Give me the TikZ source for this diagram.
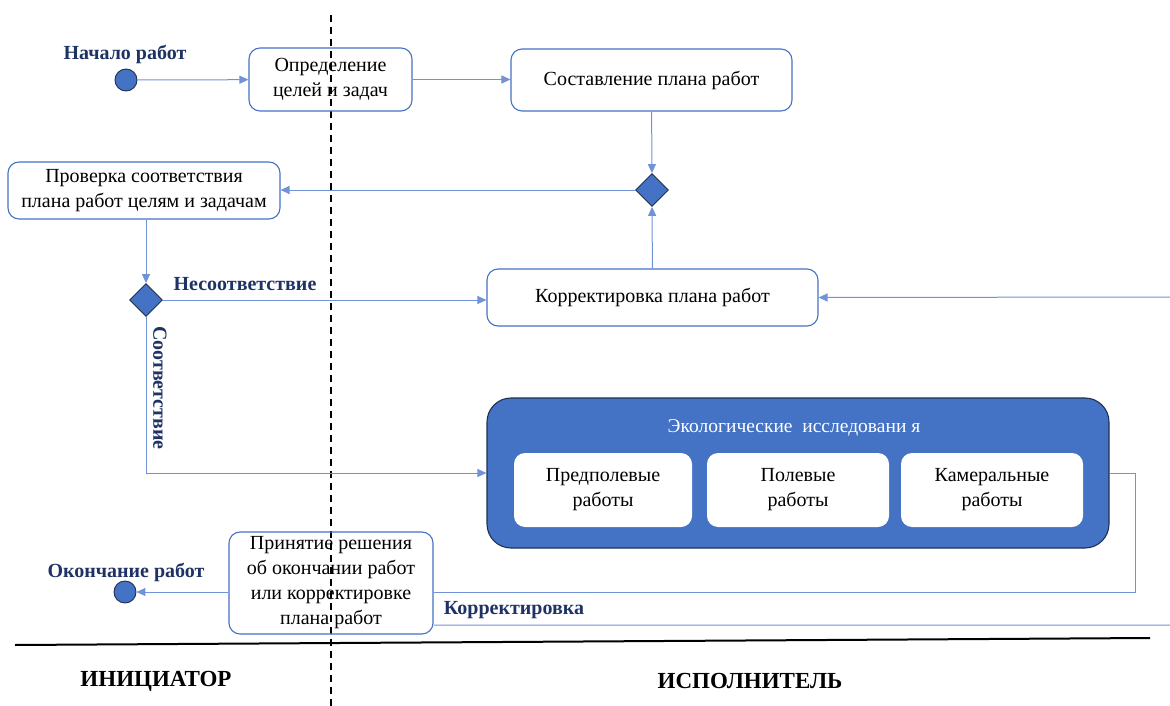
\documentclass[tikz,border=0pt]{standalone}
\usepackage{fontspec}
\setmainfont{Liberation Serif}
\usetikzlibrary{shapes.geometric,calc,positioning,arrows.meta}
\definecolor{lineblue}{HTML}{6F93D6}
\definecolor{boxblue}{HTML}{4472C4}
\definecolor{darkedge}{HTML}{1F3050}
\definecolor{navy}{HTML}{1F3264}

\begin{document}
\begin{tikzpicture}[x=1pt,y=-1pt,every node/.style={align=center,font=\fontsize{20}{25}\selectfont},
  actbox/.style={draw=boxblue,line width=1.1pt,rounded corners=11pt,inner sep=0pt},
  gate/.style={diamond,draw=darkedge,fill=boxblue,line width=0.9pt,minimum size=33pt,inner sep=0pt},
  dot/.style={circle,draw=darkedge,fill=boxblue,line width=0.9pt,minimum size=22pt,inner sep=0pt},
  flow/.style={draw=lineblue,line width=1pt,-{Triangle[length=9pt,width=8pt]}},
  plain/.style={draw=lineblue,line width=1pt},
  guard/.style={font=\fontsize{20}{24}\selectfont\bfseries,text=navy},
  role/.style={font=\fontsize{23}{26}\selectfont\bfseries}]
\useasboundingbox (0,0) rectangle (1170,706);
% lanes
\draw [dashed,line width=1.6pt,dash pattern=on 7pt off 5pt] (331,15) -- (331,706);
\draw [line width=2pt] (15,645) -- (1150,638);
\node [role] (Initiator) at (156,681) {ИНИЦИАТОР};
\node [role] (Executor) at (750,681) {ИСПОЛНИТЕЛЬ};
% activities
\node [dot] (Start) at (126,80) {};
\node [guard] (StartLabel) at (125,54) {Начало работ};
\node [actbox,minimum width=163pt,minimum height=63pt] (Goals) at (330.5,79.5) {Определение\\целей и задач};
\node [actbox,minimum width=281pt,minimum height=62pt] (Plan) at (651.5,80) {Составление плана работ};
\node [gate] (PlanGate) at (652,190) {};
\node [actbox,minimum width=272pt,minimum height=57pt] (Check) at (144,190.5) {Проверка соответствия\\плана работ целям и задачам};
\node [gate] (CheckGate) at (146,300) {};
\node [actbox,minimum width=331pt,minimum height=57pt] (Fix) at (652.5,297.5) {Корректировка плана работ};
\node [draw=darkedge,fill=boxblue,line width=1.1pt,rounded corners=24pt,minimum width=622pt,minimum height=150pt] (Eco) at (798,473) {};
\node [text=white,font=\fontsize{19.5}{22}\selectfont] (EcoTitle) at (794,428) {Экологические\ \ исследовани я};
\node [fill=white,rounded corners=11pt,minimum width=178pt,minimum height=74pt] (Pre) at (603,490) {Предполевые\\работы};
\node [fill=white,rounded corners=11pt,minimum width=182pt,minimum height=74pt] (Field) at (798,490) {Полевые\\работы};
\node [fill=white,rounded corners=11pt,minimum width=182pt,minimum height=74pt] (Office) at (992,490) {Камеральные\\работы};
\node [actbox,minimum width=204pt,minimum height=102pt,font=\fontsize{20}{25}\selectfont] (Decide) at (331,583) {Принятие решения\\об окончании работ\\или корректировке\\плана работ};
\node [dot] (Finish) at (125,592) {};
\node [guard] (FinishLabel) at (126,572) {Окончание работ};
% connectors
\coordinate (EcoOut) at (1135,473);
\coordinate (LoopTop) at (1174,297);
\coordinate (LoopBottom) at (1174,625);
\draw [flow] (Start) -- (Goals);
\draw [flow] (Goals.east) -- (Plan.west |- Goals.east);
\draw [flow] (Plan) -- (PlanGate);
\draw [flow] (Fix) -- (PlanGate);
\draw [flow] (PlanGate) -- (PlanGate -| Check.east);
\draw [flow] (Check.south -| CheckGate) -- (CheckGate);
\draw [flow] (CheckGate) -- (CheckGate -| Fix.west);
\node [guard] (Mismatch) at (245,284) {Несоответствие};
\draw [flow] (CheckGate) -- (CheckGate |- Eco) -- (Eco.west);
\node [guard,rotate=-90] (Match) at (160,388) {Соответствие};
\draw [plain] (Eco.east) -- (EcoOut) -- (EcoOut |- Finish) -- (Decide.east |- Finish);
\draw [flow] (Decide.west |- Finish) -- (Finish);
\draw [flow] (Decide.east |- LoopBottom) -- (LoopBottom) -- (LoopTop) -- (Fix.east);
\node [guard] (FixLabel) at (514,610) {Корректировка};
\end{tikzpicture}
\end{document}
